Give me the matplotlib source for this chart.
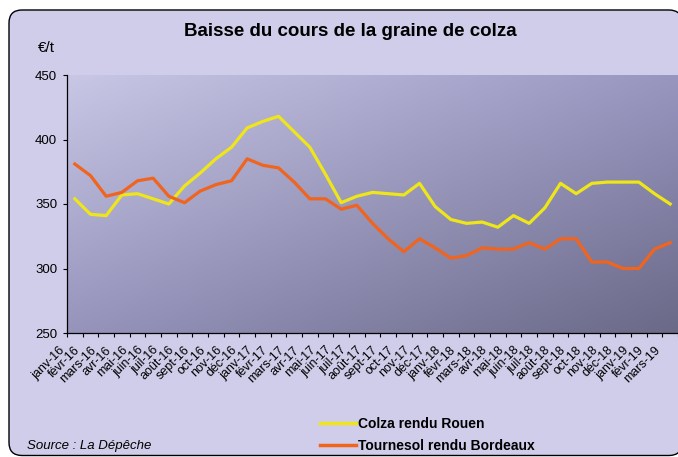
import numpy as np
import matplotlib.pyplot as plt
import matplotlib.transforms as mtransforms
from matplotlib.patches import FancyBboxPatch
from matplotlib.lines import Line2D

plt.rcParams['font.family'] = ['Liberation Sans', 'DejaVu Sans']

# =========================
# DATA
# =========================

months = [
    "janv-16", "févr-16", "mars-16", "avr-16", "mai-16", "juin-16",
    "juil-16", "août-16", "sept-16", "oct-16", "nov-16", "déc-16",
    "janv-17", "févr-17", "mars-17", "avr-17", "mai-17", "juin-17",
    "juil-17", "août-17", "sept-17", "oct-17", "nov-17", "déc-17",
    "janv-18", "févr-18", "mars-18", "avr-18", "mai-18", "juin-18",
    "juil-18", "août-18", "sept-18", "oct-18", "nov-18", "déc-18",
    "janv-19", "févr-19", "mars-19",
]

colza = [
    354, 342, 341, 357, 358, 354, 350, 364, 374, 385, 394, 409,
    414, 418, 406, 394, 373, 351, 356, 359, 358, 357, 366, 348,
    338, 335, 336, 332, 341, 335, 347, 366, 358, 366, 367, 367,
    367, 358, 350,
]

tournesol = [
    381, 372, 356, 359, 368, 370, 356, 351, 360, 365, 368, 385,
    380, 378, 367, 354, 354, 346, 349, 335, 323, 313, 323, 316,
    308, 310, 316, 315, 315, 320, 315, 323, 323, 305, 305, 300,
    300, 315, 320,
]

# =========================
# FIGURE + FRAME
# =========================

fig = plt.figure(figsize=(6.78, 4.57), dpi=100, facecolor="white")

frame = FancyBboxPatch(
    (0.09, 0.015), 6.73, 4.455,
    boxstyle="round,pad=0,rounding_size=0.13",
    transform=fig.dpi_scale_trans,
    facecolor="#CFCDE9", edgecolor="black", linewidth=1.0,
    zorder=-10
)
fig.patches.append(frame)

ax = fig.add_axes([67 / 678, 1 - 333 / 457, 611 / 678, 258 / 457])
ax.set_facecolor("none")

# gradient background of the plot area
tl = np.array([201, 199, 229]) / 255
tr = np.array([152, 150, 192]) / 255
bl = np.array([150, 148, 188]) / 255
br = np.array([106, 105, 135]) / 255
u = np.linspace(0, 1, 300)[None, :, None]
v = np.linspace(0, 1, 150)[:, None, None]
img = tl * (1 - u) * (1 - v) + tr * u * (1 - v) + bl * (1 - u) * v + br * u * v
ax.imshow(img, extent=[0, 1, 0, 1], transform=ax.transAxes,
          aspect="auto", zorder=0, interpolation="bilinear")

# =========================
# LINES
# =========================

x = np.arange(len(months))

ax.plot(x, colza, color="#EEE619", linewidth=2.3, zorder=3,
        label="Colza rendu Rouen")
ax.plot(x, tournesol, color="#F0641E", linewidth=2.3, zorder=3,
        label="Tournesol rendu Bordeaux")

ax.set_xlim(-0.5, len(months) - 0.5)
ax.set_ylim(250, 450)

# =========================
# AXES STYLE
# =========================

for side in ["top", "right"]:
    ax.spines[side].set_visible(False)
for side in ["left", "bottom"]:
    ax.spines[side].set_color("black")
    ax.spines[side].set_linewidth(0.9)
    ax.spines[side].set_zorder(4)

ax.set_yticks([250, 300, 350, 400, 450])
ax.tick_params(axis="y", length=3, width=0.8, pad=4, labelsize=9.5)

ax.set_xticks(x)
ax.set_xticklabels(months, rotation=45, ha="right", va="center",
                   rotation_mode="anchor", fontsize=9)
ax.tick_params(axis="x", which="major", length=0, pad=11)
ax.set_xticks(np.arange(-0.5, len(months), 1), minor=True)
ax.tick_params(axis="x", which="minor", length=3, width=0.8)

offset = mtransforms.ScaledTranslation(-12 / 100, 0, fig.dpi_scale_trans)
for lbl in ax.get_xticklabels():
    lbl.set_transform(lbl.get_transform() + offset)

# =========================
# TEXTS
# =========================

fig.text(350 / 678, 1 - 31 / 457, "Baisse du cours de la graine de colza",
         ha="center", va="center", fontsize=13.5, fontweight="bold")

fig.text(38 / 678, 1 - 48 / 457, "€/t", ha="left", va="center", fontsize=11)

fig.text(27 / 678, 1 - 446 / 457, "Source : La Dépêche",
         ha="left", va="center", fontsize=9.5, style="italic")

handles = [
    Line2D([], [], color="#EEE619", linewidth=2.5),
    Line2D([], [], color="#F0641E", linewidth=2.5),
]
fig.legend(handles, ["Colza rendu Rouen", "Tournesol rendu Bordeaux"],
           loc="upper left", bbox_to_anchor=(320 / 678, 1 - 417 / 457),
           frameon=False, prop={"weight": "bold", "size": 10},
           handlelength=2.6, handletextpad=0.15, labelspacing=0.6,
           borderpad=0, borderaxespad=0)

fig.savefig("out.png", dpi=100, facecolor="white")
